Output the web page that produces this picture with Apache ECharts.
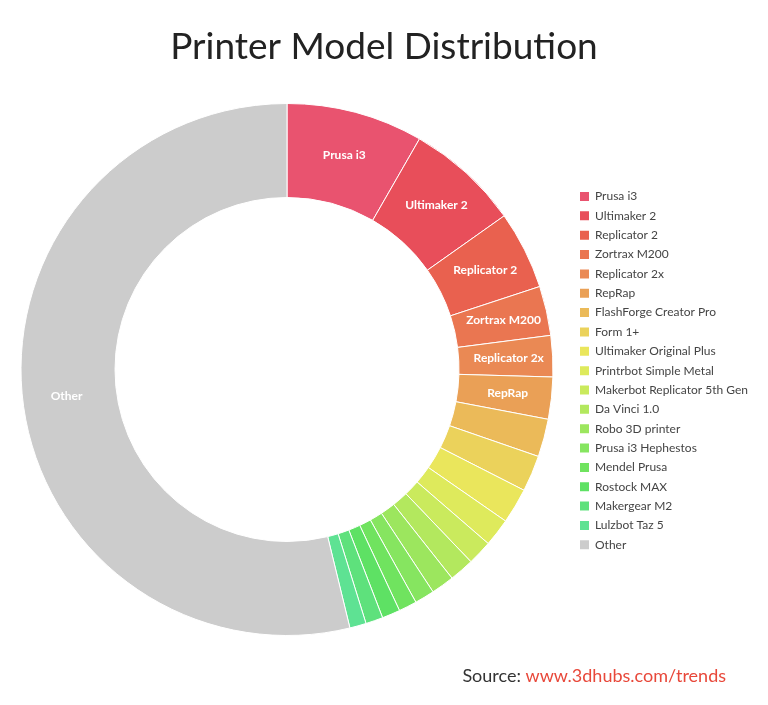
<!DOCTYPE html>
<html>
<head>
<meta charset="utf-8">
<script src="https://cdn.jsdelivr.net/npm/echarts@6/dist/echarts.min.js"></script>
<style>html,body{margin:0;padding:0;background:#fff;}#c{width:768px;height:705px;}</style>
</head>
<body>
<div id="c"></div>
<script>
const categories = ['Prusa i3','Ultimaker 2','Replicator 2','Zortrax M200','Replicator 2x','RepRap','FlashForge Creator Pro','Form 1+','Ultimaker Original Plus','Printrbot Simple Metal','Makerbot Replicator 5th Gen','Da Vinci 1.0','Robo 3D printer','Prusa i3 Hephestos','Mendel Prusa','Rostock MAX','Makergear M2','Lulzbot Taz 5','Other'];
const values = [8.3,6.9,4.75,3.0,2.5,2.55,2.3,2.2,2.15,1.7,1.5,1.5,1.4,1.2,1.1,1.1,1.05,1.0,53.8];
const colors = ['#E9536F','#E84E5A','#E9614F','#EA7651','#EA8954','#EAA056','#EBBA59','#EBD25B','#EAE65C','#DEEA5C','#CAEA5D','#B3E85E','#9CE65E','#86E560','#70E35F','#5EE164','#5EE17C','#5EE293','#CCCCCC'];
const labelled = ['Prusa i3','Ultimaker 2','Replicator 2','Zortrax M200','Replicator 2x','RepRap','Other'];

const data = categories.map((n,i)=>({
  name:n, value:values[i],
  itemStyle:{color:colors[i]},
  label:{show: labelled.indexOf(n)>=0}
}));

const chart = echarts.init(document.getElementById('c'));
chart.setOption({
  animation:false,
  title:[{
    text:'Printer Model Distribution',
    left:'center', top:24,
    textStyle:{fontFamily:'Lato',fontSize:37,fontWeight:'normal',color:'#222'}
  },{
    text:'{a|Source: }{b|www.3dhubs.com/trends}',
    right:37, top:662,
    textStyle:{fontWeight:'normal',rich:{
      a:{fontFamily:'Lato',fontSize:18,fontWeight:'normal',color:'#333'},
      b:{fontFamily:'Lato',fontSize:18,fontWeight:'normal',color:'#E8483A'}
    }}
  }],
  legend:{
    orient:'vertical', left:578, top:190, padding:0,
    icon:'rect', itemWidth:11, itemHeight:11, itemGap:6.35,
    textStyle:{fontFamily:'Lato',fontSize:12,color:'#444'},
    data:categories
  },
  series:[{
    type:'pie',
    center:[287,369.5],
    radius:[172,266],
    startAngle:90,
    clockwise:true,
    avoidLabelOverlap:false,
    label:{position:'inside',color:'#fff',fontFamily:'Lato',fontSize:12,fontWeight:'bold'},
    labelLine:{show:false},
    itemStyle:{borderColor:'#fff',borderWidth:1},
    emphasis:{disabled:true},
    data:data
  }]
});
</script>
</body>
</html>
